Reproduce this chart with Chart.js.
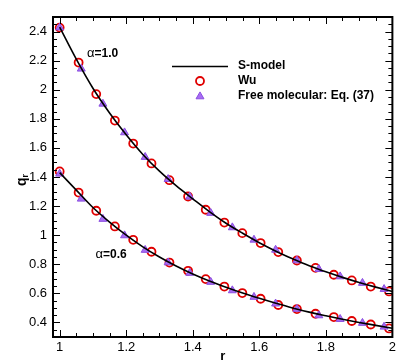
<!DOCTYPE html>
<html>
<head>
<meta charset="utf-8">
<script src="https://cdn.jsdelivr.net/npm/chart.js@4.4.0/dist/chart.umd.min.js"></script>
<style>
  html, body { margin: 0; padding: 0; background: #fff; }
</style>
</head>
<body>
<canvas id="myChart" width="399" height="361"></canvas>
<script>
// S-model curves
var lineR = [1.0, 1.05, 1.1, 1.15, 1.2, 1.25, 1.3, 1.35, 1.4, 1.45, 1.5, 1.55, 1.6, 1.65, 1.7, 1.75, 1.8, 1.85, 1.9, 1.95, 2.0];
var sUpper = [2.43, 2.21, 2.01, 1.84, 1.69, 1.555, 1.44, 1.34, 1.25, 1.162, 1.082, 1.013, 0.948, 0.89, 0.838, 0.79, 0.748, 0.71, 0.675, 0.643, 0.613];
var sLower = [1.43, 1.31, 1.19, 1.09, 1.0, 0.92, 0.85, 0.788, 0.733, 0.685, 0.642, 0.602, 0.566, 0.532, 0.5, 0.471, 0.446, 0.422, 0.4, 0.38, 0.36];

// Wu (circles)
var wuR = [1.0, 1.057, 1.11, 1.166, 1.221, 1.276, 1.33, 1.386, 1.439, 1.495, 1.549, 1.604, 1.657, 1.713, 1.769, 1.824, 1.878, 1.935, 1.99];
var wuUpper = [2.427, 2.187, 1.97, 1.788, 1.63, 1.493, 1.378, 1.266, 1.175, 1.087, 1.014, 0.946, 0.884, 0.826, 0.775, 0.728, 0.689, 0.647, 0.613];
var wuLower = [1.438, 1.293, 1.168, 1.06, 0.968, 0.886, 0.812, 0.755, 0.698, 0.647, 0.602, 0.563, 0.52, 0.492, 0.46, 0.437, 0.41, 0.386, 0.359];

// Free molecular (triangles)
var fmR = [1.0, 1.065, 1.13, 1.195, 1.257, 1.326, 1.391, 1.454, 1.519, 1.584, 1.649, 1.713, 1.779, 1.843, 1.91, 1.975];
var fmUpper = [2.427, 2.144, 1.903, 1.706, 1.537, 1.385, 1.264, 1.152, 1.053, 0.968, 0.899, 0.826, 0.766, 0.716, 0.671, 0.629];
var fmLower = [1.422, 1.25, 1.111, 0.998, 0.898, 0.812, 0.74, 0.678, 0.62, 0.575, 0.529, 0.492, 0.448, 0.423, 0.396, 0.37];

var xTicks = [1, 1.2, 1.4, 1.6, 1.8, 2];
var yTicks = [0.4, 0.6, 0.8, 1, 1.2, 1.4, 1.6, 1.8, 2, 2.2, 2.4];
var legendLabels = ['S-model', 'Wu', 'Free molecular: Eq. (37)'];
var curveLabels = ['1.0', '0.6'];

var FONT = "'Liberation Sans', Arial, Helvetica, sans-serif";
var RED = '#e00000';
var PURPLE = '#a86cf4';
var PURPLE_EDGE = '#8a4ee0';

function pts(xs, ys) {
  return xs.map(function (x, i) { return { x: x, y: ys[i] }; });
}

function lineSet(ys) {
  return {
    label: legendLabels[0], data: pts(lineR, ys), showLine: true,
    borderColor: '#000', borderWidth: 1.6, pointRadius: 0,
    cubicInterpolationMode: 'monotone', order: 0
  };
}
function wuSet(ys) {
  return {
    label: legendLabels[1], data: pts(wuR, ys), showLine: false,
    pointStyle: 'circle', pointRadius: 4, borderWidth: 1.8,
    borderColor: RED, backgroundColor: 'rgba(0,0,0,0)', order: 2
  };
}
function fmSet(ys) {
  return {
    label: legendLabels[2], data: pts(fmR, ys), showLine: false,
    pointStyle: 'triangle', pointRadius: 4.6, borderWidth: 1,
    borderColor: PURPLE_EDGE, backgroundColor: PURPLE, order: 1
  };
}

function drawTriangle(ctx, x, y, r) {
  ctx.beginPath();
  ctx.moveTo(x, y - r);
  ctx.lineTo(x + r * 0.866, y + r * 0.5);
  ctx.lineTo(x - r * 0.866, y + r * 0.5);
  ctx.closePath();
  ctx.fillStyle = PURPLE;
  ctx.fill();
  ctx.strokeStyle = PURPLE_EDGE;
  ctx.lineWidth = 1;
  ctx.stroke();
}

var framePlugin = {
  id: 'frame',
  afterDraw: function (chart) {
    var ctx = chart.ctx, a = chart.chartArea;
    var xs = chart.scales.x, ys = chart.scales.y;
    ctx.save();
    ctx.strokeStyle = '#000';

    // inward ticks on all four sides
    ctx.lineWidth = 1;
    ctx.beginPath();
    for (var v = 100; v <= 200; v += 5) {
      var px = Math.round(xs.getPixelForValue(v / 100)) + 0.5;
      var len = (v % 20 === 0) ? 7 : 4;
      ctx.moveTo(px, a.bottom); ctx.lineTo(px, a.bottom - len);
      ctx.moveTo(px, a.top); ctx.lineTo(px, a.top + len);
    }
    for (var w = 30; w <= 250; w += 5) {
      var py = Math.round(ys.getPixelForValue(w / 100)) + 0.5;
      var ln = (w % 20 === 0) ? 7 : 4;
      ctx.moveTo(a.left, py); ctx.lineTo(a.left + ln, py);
      ctx.moveTo(a.right, py); ctx.lineTo(a.right - ln, py);
    }
    ctx.stroke();

    // frame
    ctx.lineWidth = 2;
    ctx.strokeRect(a.left, a.top, a.right - a.left, a.bottom - a.top);

    // axis titles
    ctx.fillStyle = '#000';
    ctx.textBaseline = 'middle';
    ctx.textAlign = 'center';
    ctx.font = 'bold 13px ' + FONT;
    ctx.fillText('r', (a.left + a.right) / 2, 356);

    ctx.save();
    ctx.translate(22, 180);
    ctx.rotate(-Math.PI / 2);
    ctx.textAlign = 'left';
    ctx.font = 'bold 14px ' + FONT;
    ctx.fillText('q', -6, 0);
    ctx.font = 'bold 9px ' + FONT;
    ctx.fillText('r', 2.5, 4);
    ctx.restore();

    // curve annotations
    var notes = [[1.082, 2.247, curveLabels[0]], [1.108, 0.865, curveLabels[1]]];
    notes.forEach(function (n) {
      var nx = xs.getPixelForValue(n[0]), ny = ys.getPixelForValue(n[1]);
      ctx.textAlign = 'left';
      ctx.font = '13px ' + FONT;
      ctx.fillText('\u03b1', nx, ny);
      var aw = ctx.measureText('\u03b1').width;
      ctx.font = 'bold 12px ' + FONT;
      ctx.fillText('=' + n[2], nx + aw, ny);
    });

    // legend
    ctx.lineWidth = 1.6;
    ctx.beginPath();
    ctx.moveTo(172, 66.5); ctx.lineTo(228, 66.5);
    ctx.stroke();
    ctx.beginPath();
    ctx.arc(200, 81, 4, 0, Math.PI * 2);
    ctx.strokeStyle = RED; ctx.lineWidth = 1.8;
    ctx.stroke();
    drawTriangle(ctx, 200, 96.5, 4.6);
    ctx.fillStyle = '#000';
    ctx.font = 'bold 12px ' + FONT;
    ctx.textAlign = 'left';
    ctx.fillText(legendLabels[0], 238, 66);
    ctx.fillText(legendLabels[1], 238, 81);
    ctx.fillText(legendLabels[2], 238, 96);
    ctx.restore();
  }
};

var ctx = document.getElementById('myChart').getContext('2d');
var myChart = new Chart(ctx, {
  type: 'scatter',
  data: {
    datasets: [
      lineSet(sUpper), lineSet(sLower),
      fmSet(fmUpper), fmSet(fmLower),
      wuSet(wuUpper), wuSet(wuLower)
    ]
  },
  options: {
    responsive: false,
    animation: false,
    layout: { padding: { left: 0, right: 3, top: 17, bottom: 0 } },
    plugins: { legend: { display: false }, tooltip: { enabled: false } },
    scales: {
      x: {
        type: 'linear', min: 0.98, max: 2.0,
        grid: { display: false, drawTicks: false },
        border: { display: false },
        afterBuildTicks: function (s) { s.ticks = xTicks.map(function (v) { return { value: v }; }); },
        afterFit: function (s) { s.height = 24; },
        ticks: {
          padding: 3, color: '#000', font: { family: FONT, size: 13 },
          maxRotation: 0, autoSkip: false,
          callback: function (v) { return String(Math.round(v * 10) / 10); }
        }
      },
      y: {
        type: 'linear', min: 0.3, max: 2.5,
        grid: { display: false, drawTicks: false },
        border: { display: false },
        afterBuildTicks: function (s) { s.ticks = yTicks.map(function (v) { return { value: v }; }); },
        afterFit: function (s) { s.width = 53; },
        ticks: {
          padding: 6, color: '#000', font: { family: FONT, size: 13 },
          autoSkip: false,
          callback: function (v) { return String(Math.round(v * 10) / 10); }
        }
      }
    }
  },
  plugins: [framePlugin]
});
</script>
</body>
</html>
